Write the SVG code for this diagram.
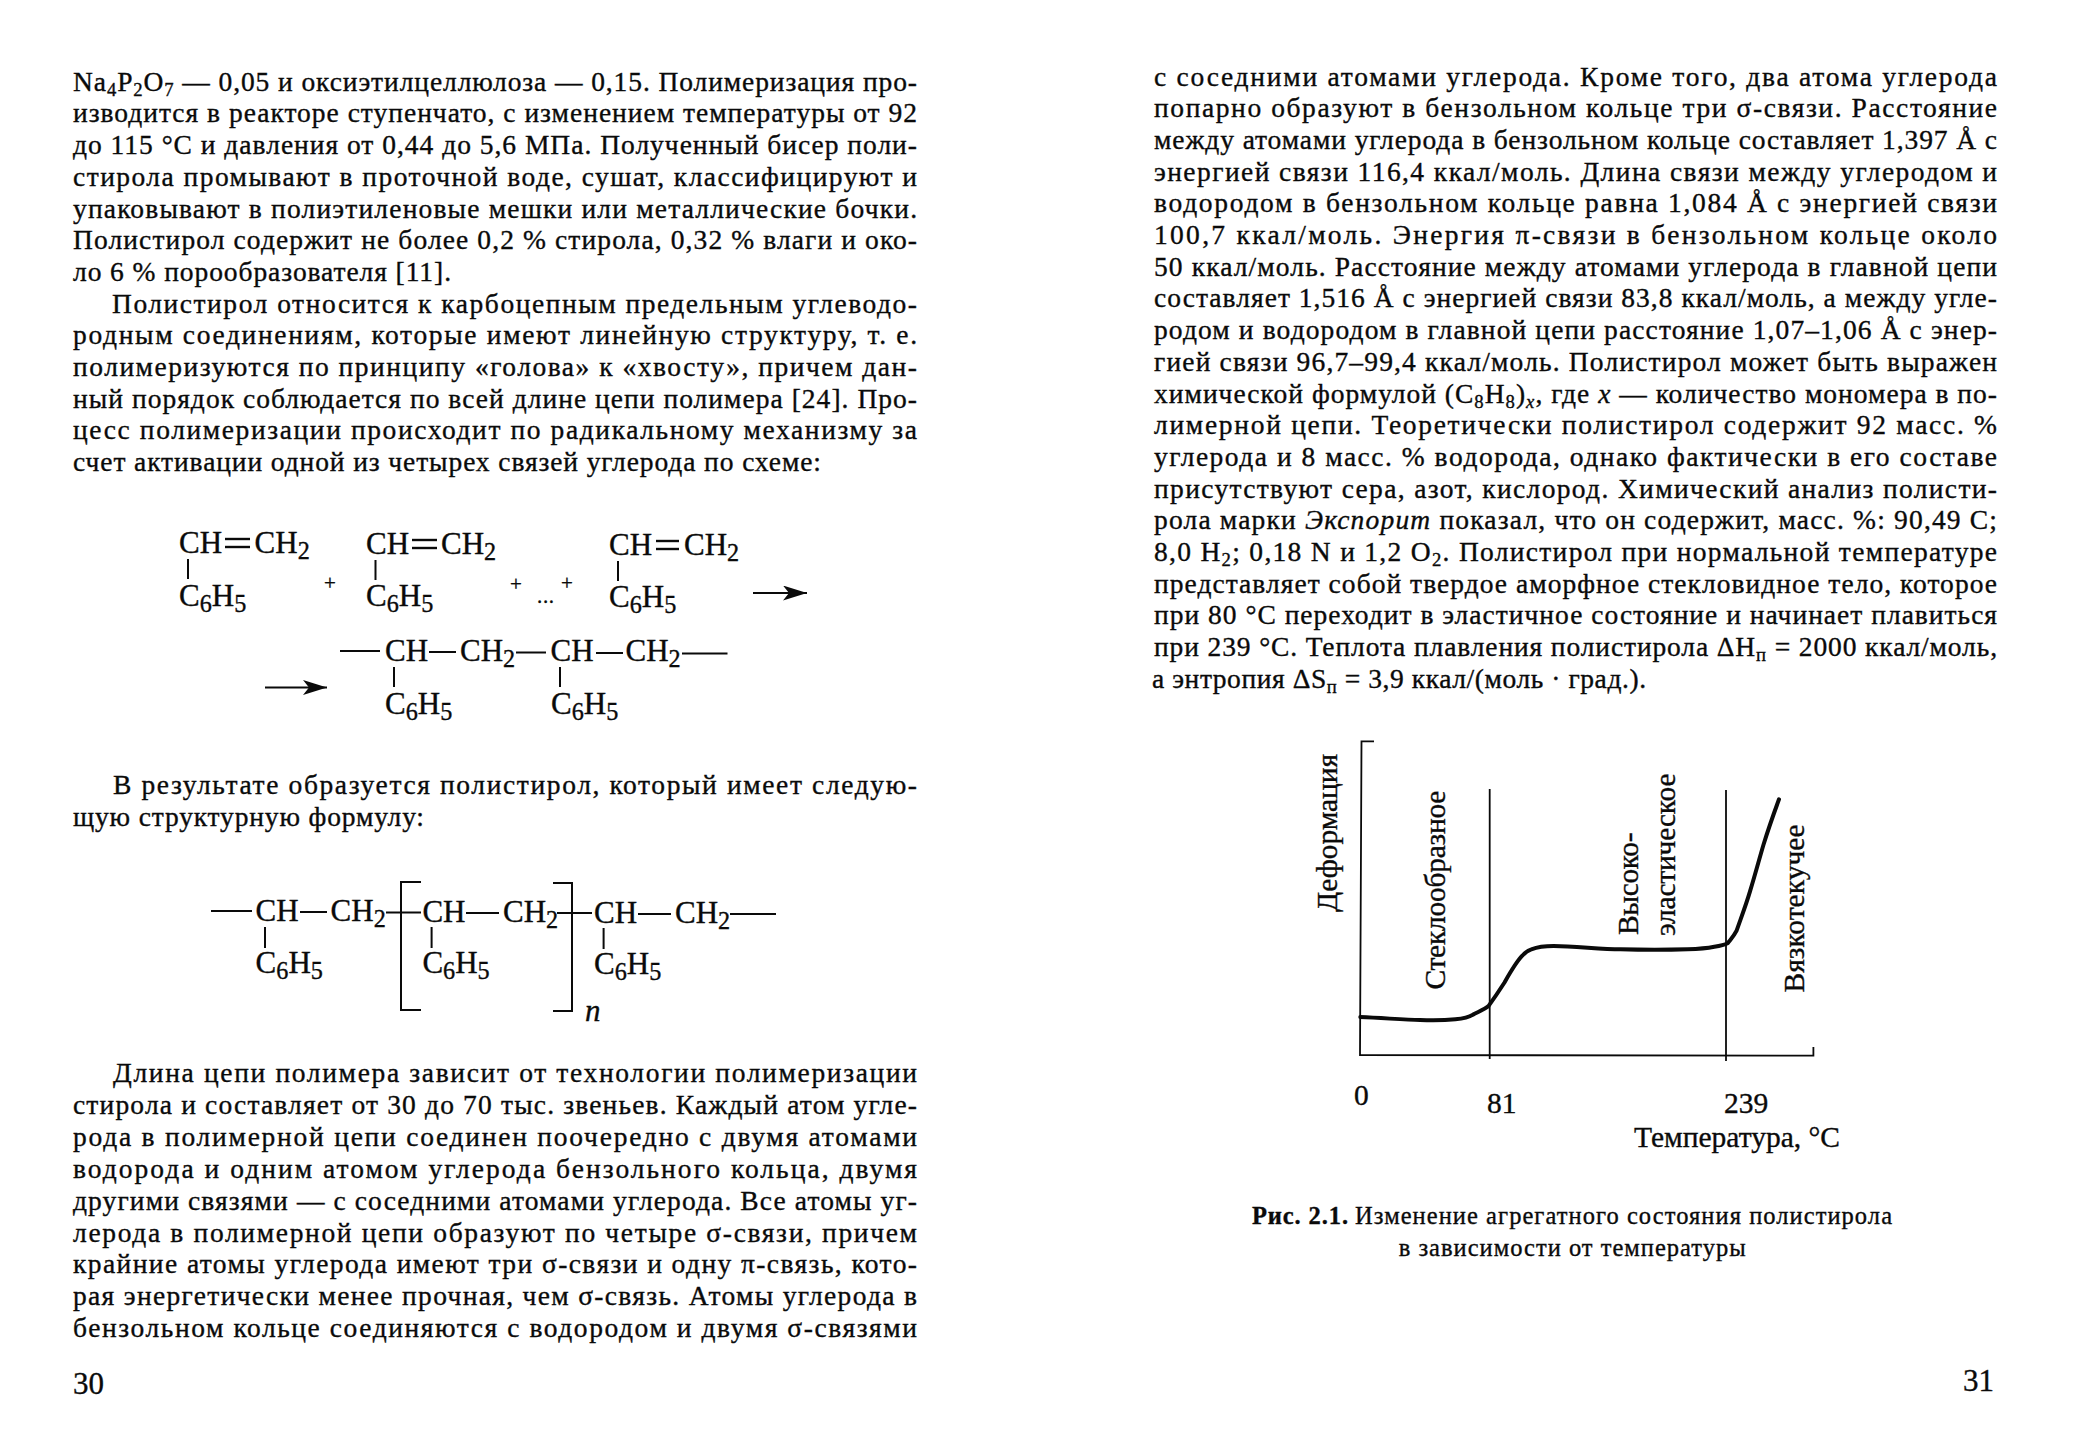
<svg xmlns="http://www.w3.org/2000/svg" width="2080" height="1453" viewBox="0 0 2080 1453">
<style>
text{font-family:"Liberation Serif","Times New Roman",serif;fill:#0a0a0a;stroke:#0a0a0a;stroke-width:.35}
.b{font-size:27.5px}
.f{font-size:31px}
.c{font-size:29.5px}
.cap{font-size:24.5px}
.sm{font-size:.68em}
.f .sm{font-size:.78em}
.p{font-size:21px}
.bd{font-weight:bold}
.i{font-style:italic}
line,path,polyline{stroke:#0a0a0a;fill:none}
.bond{stroke-width:2}
.dbl{stroke-width:2.4}
.ax{stroke-width:1.8}
.cur{stroke-width:4;stroke-linejoin:round;stroke-linecap:round}
</style>
<defs>
<marker id="ah" markerUnits="userSpaceOnUse" markerWidth="26" markerHeight="16" refX="24" refY="7.5" orient="auto"><path d="M0 0 L24 7.5 L0 15 L6 7.5 Z" style="fill:#0a0a0a;stroke:none"/></marker>
<g id="ph"><text class="f" x="0" y="0">C<tspan class="sm" dy="6">6</tspan><tspan dy="-6">H</tspan><tspan class="sm" dy="6">5</tspan></text></g>
</defs>
<rect width="2080" height="1453" fill="#fff"/>
<g id="page-30-text">
<text class="b" x="73" y="90.7" textLength="844">Na<tspan class="sm" dy="5">4</tspan><tspan dy="-5">P</tspan><tspan class="sm" dy="5">2</tspan><tspan dy="-5">O</tspan><tspan class="sm" dy="5">7</tspan><tspan dy="-5"> — 0,05 и оксиэтилцеллюлоза — 0,15. Полимеризация про-</tspan></text>
<text class="b" x="73" y="122.4" textLength="844">изводится в реакторе ступенчато, с изменением температуры от 92</text>
<text class="b" x="73" y="154.1" textLength="844">до 115 °С и давления от 0,44 до 5,6 МПа. Полученный бисер поли-</text>
<text class="b" x="73" y="185.8" textLength="844">стирола промывают в проточной воде, сушат, классифицируют и</text>
<text class="b" x="73" y="217.5" textLength="844">упаковывают в полиэтиленовые мешки или металлические бочки.</text>
<text class="b" x="73" y="249.2" textLength="844">Полистирол содержит не более 0,2 % стирола, 0,32 % влаги и око-</text>
<text class="b" x="73" y="280.9" textLength="378">ло 6 % порообразователя [11].</text>
<text class="b" x="112" y="312.6" textLength="805">Полистирол относится к карбоцепным предельным углеводо-</text>
<text class="b" x="73" y="344.3" textLength="844">родным соединениям, которые имеют линейную структуру, т. е.</text>
<text class="b" x="73" y="376" textLength="844">полимеризуются по принципу «голова» к «хвосту», причем дан-</text>
<text class="b" x="73" y="407.7" textLength="844">ный порядок соблюдается по всей длине цепи полимера [24]. Про-</text>
<text class="b" x="73" y="439.4" textLength="844">цесс полимеризации происходит по радикальному механизму за</text>
<text class="b" x="73" y="471.1" textLength="748">счет активации одной из четырех связей углерода по схеме:</text>
<text class="b" x="113" y="794" textLength="804">В результате образуется полистирол, который имеет следую-</text>
<text class="b" x="73" y="825.6" textLength="351">щую структурную формулу:</text>
<text class="b" x="113" y="1082" textLength="804">Длина цепи полимера зависит от технологии полимеризации</text>
<text class="b" x="73" y="1113.9" textLength="844">стирола и составляет от 30 до 70 тыс. звеньев. Каждый атом угле-</text>
<text class="b" x="73" y="1145.8" textLength="844">рода в полимерной цепи соединен поочередно с двумя атомами</text>
<text class="b" x="73" y="1177.7" textLength="844">водорода и одним атомом углерода бензольного кольца, двумя</text>
<text class="b" x="73" y="1209.6" textLength="844">другими связями — с соседними атомами углерода. Все атомы уг-</text>
<text class="b" x="73" y="1241.5" textLength="844">лерода в полимерной цепи образуют по четыре σ-связи, причем</text>
<text class="b" x="73" y="1273.4" textLength="844">крайние атомы углерода имеют три σ-связи и одну π-связь, кото-</text>
<text class="b" x="73" y="1305.3" textLength="844">рая энергетически менее прочная, чем σ-связь. Атомы углерода в</text>
<text class="b" x="73" y="1337.2" textLength="844">бензольном кольце соединяются с водородом и двумя σ-связями</text>
<text x="73" y="1394" style="font-size:31px">30</text>
</g>
<g id="page-31-text">
<text class="b" x="1154" y="85.5" textLength="843">с соседними атомами углерода. Кроме того, два атома углерода</text>
<text class="b" x="1154" y="117.2" textLength="843">попарно образуют в бензольном кольце три σ-связи. Расстояние</text>
<text class="b" x="1154" y="148.9" textLength="843">между атомами углерода в бензольном кольце составляет 1,397 Å с</text>
<text class="b" x="1154" y="180.6" textLength="843">энергией связи 116,4 ккал/моль. Длина связи между углеродом и</text>
<text class="b" x="1154" y="212.3" textLength="843">водородом в бензольном кольце равна 1,084 Å с энергией связи</text>
<text class="b" x="1154" y="244" textLength="843">100,7 ккал/моль. Энергия π-связи в бензольном кольце около</text>
<text class="b" x="1154" y="275.7" textLength="843">50 ккал/моль. Расстояние между атомами углерода в главной цепи</text>
<text class="b" x="1154" y="307.4" textLength="843">составляет 1,516 Å с энергией связи 83,8 ккал/моль, а между угле-</text>
<text class="b" x="1154" y="339.1" textLength="843">родом и водородом в главной цепи расстояние 1,07–1,06 Å с энер-</text>
<text class="b" x="1154" y="370.8" textLength="843">гией связи 96,7–99,4 ккал/моль. Полистирол может быть выражен</text>
<text class="b" x="1154" y="402.5" textLength="843">химической формулой (C<tspan class="sm" dy="5">8</tspan><tspan dy="-5">H</tspan><tspan class="sm" dy="5">8</tspan><tspan dy="-5">)</tspan><tspan class="sm i" dy="5">x</tspan><tspan dy="-5">, где </tspan><tspan class="i">x</tspan> — количество мономера в по-</text>
<text class="b" x="1154" y="434.2" textLength="843">лимерной цепи. Теоретически полистирол содержит 92 масс. %</text>
<text class="b" x="1154" y="465.9" textLength="843">углерода и 8 масс. % водорода, однако фактически в его составе</text>
<text class="b" x="1154" y="497.6" textLength="843">присутствуют сера, азот, кислород. Химический анализ полисти-</text>
<text class="b" x="1154" y="529.3" textLength="843">рола марки <tspan class="i">Экспорит</tspan> показал, что он содержит, масс. %: 90,49 С;</text>
<text class="b" x="1154" y="561" textLength="843">8,0 H<tspan class="sm" dy="5">2</tspan><tspan dy="-5">; 0,18 N и 1,2 O</tspan><tspan class="sm" dy="5">2</tspan><tspan dy="-5">. Полистирол при нормальной температуре</tspan></text>
<text class="b" x="1154" y="592.7" textLength="843">представляет собой твердое аморфное стекловидное тело, которое</text>
<text class="b" x="1154" y="624.4" textLength="843">при 80 °С переходит в эластичное состояние и начинает плавиться</text>
<text class="b" x="1154" y="656.1" textLength="843">при 239 °С. Теплота плавления полистирола ΔH<tspan class="sm" dy="5">п</tspan><tspan dy="-5"> = 2000 ккал/моль,</tspan></text>
<text class="b" x="1152" y="687.8" textLength="494">а энтропия ΔS<tspan class="sm" dy="5">п</tspan><tspan dy="-5"> = 3,9 ккал/(моль · град.).</tspan></text>
<text x="1963" y="1391" style="font-size:31px">31</text>
</g>
<g id="scheme-labels">
<text class="f" x="179" y="553">CH</text><text class="f" x="254.6" y="553">CH<tspan class="sm" dy="6">2</tspan></text>
<use href="#ph" x="179" y="606"/>
<text class="p" x="324" y="590">+</text>
<text class="f" x="366" y="554">CH</text><text class="f" x="441" y="554">CH<tspan class="sm" dy="6">2</tspan></text>
<use href="#ph" x="366" y="606"/>
<text class="p" x="510" y="591">+</text><text class="p" x="537" y="603" textLength="17">...</text><text class="p" x="561" y="590">+</text>
<text class="f" x="609" y="555">CH</text><text class="f" x="684" y="555">CH<tspan class="sm" dy="6">2</tspan></text>
<use href="#ph" x="609" y="607"/>
<text class="f" x="385" y="661">CH</text><text class="f" x="460" y="661">CH<tspan class="sm" dy="6">2</tspan></text>
<text class="f" x="550.5" y="661">CH</text><text class="f" x="625.5" y="661">CH<tspan class="sm" dy="6">2</tspan></text>
<use href="#ph" x="385" y="714"/><use href="#ph" x="551" y="714"/>
</g>
<g id="formula-labels">
<text class="f" x="255.6" y="921.4">CH</text><text class="f" x="330.6" y="921.4">CH<tspan class="sm" dy="6">2</tspan></text>
<text class="f" x="422.4" y="922">CH</text><text class="f" x="503" y="922">CH<tspan class="sm" dy="6">2</tspan></text>
<text class="f" x="594" y="922.5">CH</text><text class="f" x="675" y="922.5">CH<tspan class="sm" dy="6">2</tspan></text>
<use href="#ph" x="255.6" y="973"/><use href="#ph" x="422.4" y="973"/><use href="#ph" x="594" y="974"/>
<text class="f i" x="585" y="1021.4">n</text>
</g>
<g id="connectors">
<line class="dbl" x1="225" y1="539" x2="250" y2="539"/><line class="dbl" x1="225" y1="547" x2="250" y2="547"/>
<line class="dbl" x1="412" y1="540" x2="437" y2="540"/><line class="dbl" x1="412" y1="548" x2="437" y2="548"/>
<line class="dbl" x1="656" y1="541" x2="679" y2="541"/><line class="dbl" x1="656" y1="549" x2="679" y2="549"/>
<line class="bond" x1="188" y1="559" x2="188" y2="579"/><line class="bond" x1="375.5" y1="560" x2="375.5" y2="580"/><line class="bond" x1="618" y1="561" x2="618" y2="581"/>
<line class="bond" x1="753" y1="593" x2="807" y2="593" marker-end="url(#ah)"/>
<line class="bond" x1="340" y1="651" x2="380" y2="651"/><line class="bond" x1="429" y1="652" x2="456" y2="652"/><line class="bond" x1="516" y1="652.5" x2="546" y2="652.5"/><line class="bond" x1="596" y1="653" x2="623" y2="653"/><line class="bond" x1="682" y1="653.5" x2="727.5" y2="653.5"/>
<line class="bond" x1="394" y1="667" x2="394" y2="687"/><line class="bond" x1="560" y1="667" x2="560" y2="687"/>
<line class="bond" x1="265" y1="687.5" x2="327" y2="687.5" marker-end="url(#ah)"/>
<line class="bond" x1="211" y1="911" x2="252" y2="911"/><line class="bond" x1="300" y1="912" x2="327" y2="912"/><line class="bond" x1="386" y1="912.5" x2="421" y2="912.5"/><line class="bond" x1="466" y1="913" x2="499" y2="913"/><line class="bond" x1="557" y1="913" x2="592" y2="913"/><line class="bond" x1="638" y1="914" x2="671" y2="914"/><line class="bond" x1="730" y1="914" x2="776" y2="914"/>
<line class="bond" x1="265" y1="927" x2="265" y2="948"/><line class="bond" x1="431.6" y1="927" x2="431.6" y2="948"/><line class="bond" x1="603.6" y1="928" x2="603.6" y2="949"/>
<polyline class="bond" points="421,882 401,882 401,1010 421,1010"/>
<polyline class="bond" points="553,883 572,883 572,1011 553,1011"/>
</g>
<g id="chart">
<polyline class="ax" points="1374,741.4 1361.5,741.4 1360,1055 1813.4,1055.7 1813.4,1047"/>
<line class="ax" x1="1489.7" y1="789" x2="1489.7" y2="1059"/>
<line class="ax" x1="1726" y1="790" x2="1726" y2="1061"/>
<path class="cur" d="M1360.3 1017 C1385 1018 1405 1020 1420 1020 C1435 1020.5 1448 1020 1455.4 1019.3 C1464 1018.5 1470 1016.5 1473 1014.6 C1480 1011 1485 1009 1488.8 1005.7 C1495 997 1499 991 1504.5 982.5 C1511 971 1517 961 1522.3 955.7 C1526 951.5 1529 950 1531.3 949.3 C1538 946.8 1545 946 1553.6 946 C1575 946 1600 949.3 1620.5 949.3 C1645 950 1665 950 1687.5 949.3 C1698 949 1706 948.5 1714.3 946.8 C1720 945.8 1724 945 1727.7 943.2 C1731 939 1734 936 1736.6 930.7 C1741 918 1746 905 1750 891.4 C1755 875 1759 860 1763.4 845 C1768 830 1774 813 1779 799.3"/>
</g>
<g id="chart-labels">
<text class="c" transform="translate(1337 912) rotate(-90)" textLength="158">Деформация</text>
<text class="c" transform="translate(1445 989.6) rotate(-90)" textLength="199">Стеклообразное</text>
<text class="c" transform="translate(1637.5 935) rotate(-90)" textLength="102.5">Высоко-</text>
<text class="c" transform="translate(1675.4 936) rotate(-90)" textLength="162.5">эластическое</text>
<text class="c" transform="translate(1803.6 992.5) rotate(-90)" textLength="168">Вязкотекучее</text>
<text class="c" x="1354" y="1105">0</text>
<text class="c" x="1487" y="1113">81</text>
<text class="c" x="1724" y="1113">239</text>
<text class="c" x="1634" y="1147" textLength="206">Температура, °C</text>
</g>
<g id="caption">
<text class="cap bd" x="1252" y="1223.6" textLength="96">Рис. 2.1.</text>
<text class="cap" x="1355" y="1223.6" textLength="537">Изменение агрегатного состояния полистирола</text>
<text class="cap" x="1398.7" y="1255.7" textLength="347">в зависимости от температуры</text>
</g>
</svg>
